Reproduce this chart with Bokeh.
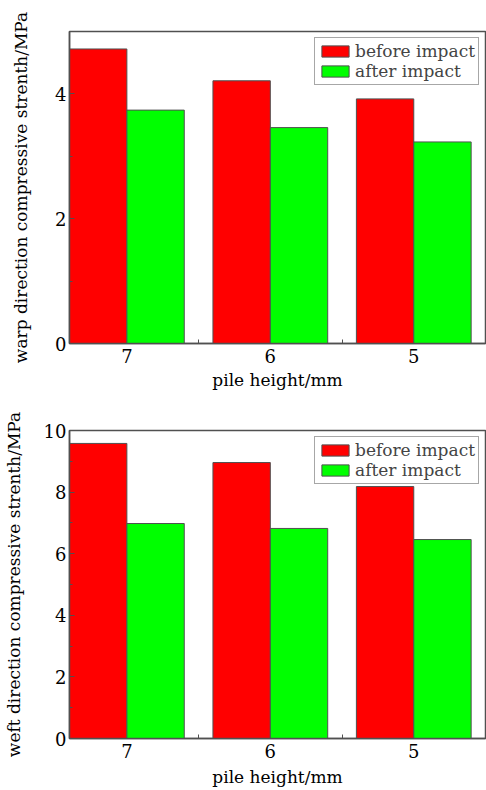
from bokeh.plotting import figure
from bokeh.layouts import column
from bokeh.models import FixedTicker, Range1d, Legend, LegendItem
from bokeh.embed import file_html
from bokeh.resources import INLINE
import numpy as np

# ---- data ----
pile_heights = ["7", "6", "5"]
warp_before = [4.72, 4.21, 3.92]
warp_after = [3.74, 3.46, 3.23]
weft_before = [9.58, 8.96, 8.18]
weft_after = [6.98, 6.82, 6.46]
series_names = ["before impact", "after impact"]
warp_yticks = [0, 2, 4]
warp_yminor = [1, 3]
weft_yticks = [0, 2, 4, 6, 8, 10]
weft_yminor = [1, 3, 5, 7, 9]

FONT = "DejaVu Serif"
EDGE = "#505050"
RED = "#FF0000"
GREEN = "#00FF00"


def make_chart(before, after, ylabel, ymax, yticks, yminor, height, top, bottom,
               label_standoff, xlabel_standoff):
    pos = np.arange(1, len(pile_heights) + 1)
    p = figure(width=486, height=height, output_backend="svg", toolbar_location=None,
               x_range=Range1d(0.6, 3.5), y_range=Range1d(0, ymax),
               min_border_left=65, min_border_right=1, min_border_top=top,
               min_border_bottom=bottom)
    p.xgrid.visible = False
    p.ygrid.visible = False
    p.outline_line_color = EDGE
    p.outline_line_width = 1.5
    p.background_fill_color = "white"
    p.border_fill_color = "white"

    r1 = p.vbar(x=pos - 0.2, top=before, width=0.4, fill_color=RED,
                line_color=EDGE, line_width=1)
    r2 = p.vbar(x=pos + 0.2, top=after, width=0.4, fill_color=GREEN,
                line_color=EDGE, line_width=1)

    xa = p.xaxis[0]
    xa.ticker = FixedTicker(ticks=list(pos), minor_ticks=list(pos[:-1] + 0.5))
    xa.major_label_overrides = {int(k): v for k, v in zip(pos, pile_heights)}
    xa.axis_label = "pile height/mm"
    ya = p.yaxis[0]
    ya.ticker = FixedTicker(ticks=yticks, minor_ticks=yminor)
    ya.axis_label = ylabel

    for ax in (xa, ya):
        ax.axis_line_color = EDGE
        ax.axis_line_width = 1.5
        ax.major_tick_line_color = EDGE
        ax.minor_tick_line_color = EDGE
        ax.major_tick_in = 5
        ax.major_tick_out = 0
        ax.minor_tick_in = 3
        ax.minor_tick_out = 0
        ax.major_label_text_font = FONT
        ax.major_label_text_font_size = "18px"
        ax.major_label_text_color = "black"
        ax.axis_label_text_font = FONT
        ax.axis_label_text_font_size = "17px"
        ax.axis_label_text_font_style = "normal"
        ax.axis_label_text_color = "black"
    xa.major_label_standoff = 5
    xa.axis_label_standoff = xlabel_standoff
    xa.major_tick_in = 0
    xa.minor_tick_in = 4
    ya.major_label_standoff = 3
    ya.axis_label_standoff = label_standoff

    legend = Legend(items=[LegendItem(label=series_names[0], renderers=[r1]),
                           LegendItem(label=series_names[1], renderers=[r2])],
                    location="top_right", margin=6, padding=3, spacing=0,
                    glyph_width=34, glyph_height=14, label_height=17,
                    label_standoff=3, label_text_font=FONT,
                    label_text_font_size="17px", label_text_line_height=1.0,
                    border_line_color=EDGE, border_line_width=1,
                    background_fill_alpha=1.0)
    p.add_layout(legend)
    return p


p1 = make_chart(warp_before, warp_after, "warp direction compressive strenth/MPa",
                5, warp_yticks, warp_yminor, 400, 31, 57, 21, 4)
p2 = make_chart(weft_before, weft_after, "weft direction compressive strenth/MPa",
                10, weft_yticks, weft_yminor, 390, 30, 52, 17, 6)

layout = column(p1, p2, spacing=0)
open("out.html", "w").write(file_html(layout, INLINE))
